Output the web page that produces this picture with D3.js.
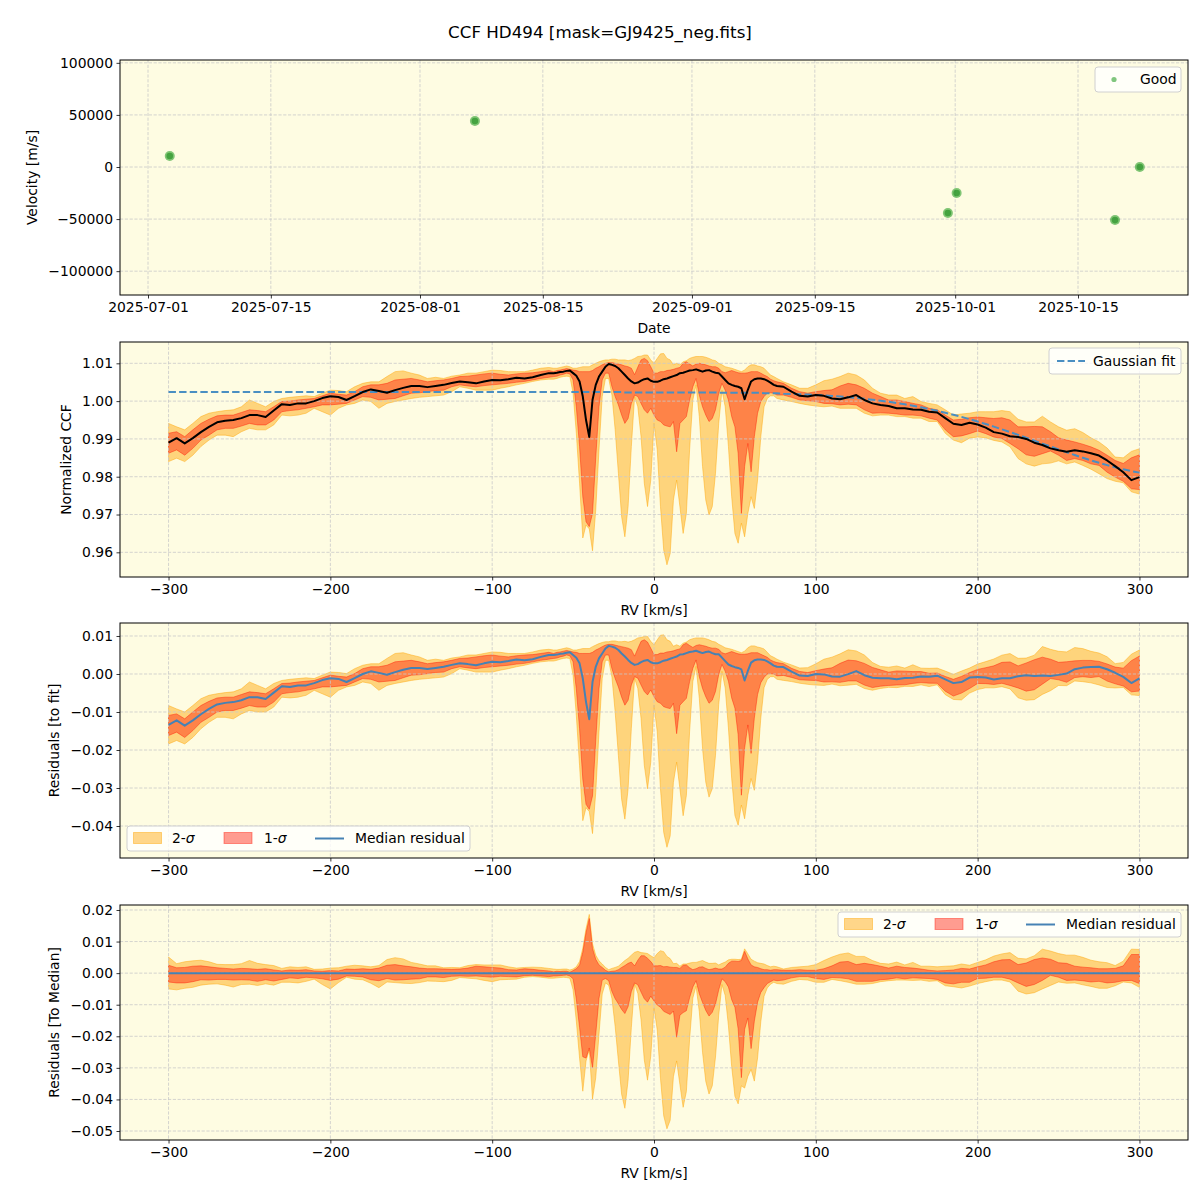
<!DOCTYPE html>
<html><head><meta charset="utf-8">
<script src="https://cdn.jsdelivr.net/npm/d3@7"></script>
<style>body{margin:0;background:#fff}</style>
</head><body>
<script>
// ---------------- DATA ----------------
// Panel 1: velocities per observation date
const obsDates = ["2025-07-03T11:30:00Z","2025-08-07T06:15:00Z","2025-09-30T04:00:00Z","2025-10-01T04:00:00Z","2025-10-19T05:15:00Z","2025-10-22T01:00:00Z"];
const obsVel = [10560, 44160, -44230, -25000, -50960, 0];
const dateTicks = ["2025-07-01","2025-07-15","2025-08-01","2025-08-15","2025-09-01","2025-09-15","2025-10-01","2025-10-15"];

// RV grid (km/s)
const rv = [
-300,-295,-290,-285,-280,-275,-270,-265,-260,-255,-250,-245,-240,-235,-230,-225,-220,-215,-210,-205,
-200,-195,-190,-185,-180,-175,-170,-165,-160,-155,-150,-145,-140,-135,-130,-125,-120,-115,-110,-105,
-100,-95,-90,-85,-80,-75,-70,-65,
-62,-60,-58,-56,-54,-52,-50,-48,-46,-44,-42,-40,-38,-36,-34,-32,-30,-28,-26,-24,-22,-20,-18,-16,-14,-12,-10,-8,-6,-4,-2,
0,2,4,6,8,10,12,14,16,18,20,22,24,26,28,30,32,34,36,38,40,42,44,46,48,50,52,54,56,58,60,62,64,66,68,70,72,74,76,
80,85,90,95,100,105,110,115,120,125,130,135,140,145,150,155,160,165,170,175,180,185,190,195,200,205,210,215,220,225,
230,235,240,245,250,255,260,265,270,275,280,285,290,295,300];

// Median normalized CCF
const ccfMed = [
0.9890,0.9902,0.9888,0.9902,0.9918,0.9932,0.9944,0.9948,0.9950,0.9955,0.9963,0.9963,0.9958,0.9975,0.9992,0.9990,0.9994,0.9994,1.0000,1.0008,
1.0013,1.0011,1.0003,1.0013,1.0024,1.0031,1.0027,1.0022,1.0029,1.0035,1.0040,1.0040,1.0037,1.0040,1.0043,1.0048,1.0052,1.0050,1.0047,1.0052,
1.0056,1.0055,1.0058,1.0062,1.0060,1.0063,1.0069,1.0074,
1.0074,1.0075,1.0077,1.0078,1.0080,1.0081,1.0074,1.0067,1.0052,1.0012,0.9950,0.9905,1.0003,1.0043,1.0065,1.0078,1.0091,1.0098,1.0096,1.0093,
1.0087,1.0078,1.0069,1.0060,1.0052,1.0047,1.0049,1.0054,1.0058,1.0060,1.0054,
1.0051,1.0051,1.0054,1.0058,1.0060,1.0063,1.0066,1.0069,1.0074,1.0075,1.0078,1.0081,1.0082,1.0084,1.0081,1.0078,1.0081,1.0082,1.0078,1.0075,
1.0074,1.0065,1.0056,1.0047,1.0043,1.0040,1.0038,1.0034,1.0005,1.0030,1.0052,1.0058,1.0060,1.0060,1.0058,1.0054,1.0049,1.0043,1.0040,
1.0038,1.0025,1.0014,1.0012,1.0016,1.0014,1.0007,1.0005,1.0010,1.0016,1.0003,0.9994,0.9990,0.9987,0.9981,0.9981,0.9978,0.9977,0.9972,0.9970,
0.9955,0.9940,0.9937,0.9943,0.9938,0.9930,0.9918,0.9914,0.9907,0.9905,0.9900,0.9890,0.9884,0.9875,0.9870,0.9866,0.9870,0.9867,0.9862,0.9856,
0.9843,0.9828,0.9812,0.9791,0.9799];

// 2-sigma upper / lower
const ccfHi2 = [
0.9941,0.9932,0.9924,0.9941,0.9959,0.9968,0.9972,0.9975,0.9977,0.9985,1.0003,0.9994,0.9985,0.9999,1.0007,1.0010,1.0012,1.0014,1.0012,1.0021,
1.0029,1.0028,1.0025,1.0038,1.0047,1.0051,1.0051,1.0065,1.0078,1.0080,1.0074,1.0069,1.0060,1.0063,1.0060,1.0066,1.0069,1.0074,1.0074,1.0078,
1.0082,1.0081,1.0078,1.0078,1.0078,1.0082,1.0087,1.0089,
1.0087,1.0087,1.0089,1.0091,1.0093,1.0091,1.0087,1.0087,1.0089,1.0091,1.0091,1.0091,1.0096,1.0100,1.0104,1.0107,1.0109,1.0109,1.0111,1.0111,
1.0109,1.0109,1.0109,1.0107,1.0109,1.0113,1.0118,1.0119,1.0122,1.0122,1.0109,
1.0100,1.0113,1.0125,1.0126,1.0113,1.0109,1.0096,1.0100,1.0096,1.0104,1.0107,1.0113,1.0116,1.0118,1.0118,1.0118,1.0116,1.0113,1.0109,1.0107,
1.0100,1.0096,1.0091,1.0089,1.0087,1.0084,1.0081,1.0078,1.0082,1.0091,1.0096,1.0096,1.0093,1.0091,1.0087,1.0078,1.0069,1.0065,1.0060,
1.0051,1.0043,1.0034,1.0034,1.0043,1.0054,1.0058,1.0065,1.0074,1.0069,1.0056,1.0034,1.0021,1.0016,1.0016,1.0007,1.0012,0.9999,0.9994,0.9990,
0.9977,0.9963,0.9966,0.9968,0.9972,0.9972,0.9972,0.9975,0.9972,0.9952,0.9945,0.9945,0.9960,0.9945,0.9932,0.9923,0.9927,0.9917,0.9903,0.9892,
0.9876,0.9852,0.9850,0.9867,0.9874];
const ccfLo2 = [
0.9840,0.9849,0.9840,0.9857,0.9880,0.9897,0.9910,0.9910,0.9906,0.9919,0.9928,0.9924,0.9924,0.9937,0.9963,0.9961,0.9963,0.9968,0.9981,0.9972,
0.9963,0.9981,0.9990,0.9994,1.0003,0.9999,0.9981,0.9994,0.9999,1.0003,1.0007,1.0010,1.0012,1.0014,1.0016,1.0025,1.0038,1.0034,1.0029,1.0029,
1.0029,1.0034,1.0038,1.0043,1.0047,1.0052,1.0056,1.0058,
1.0058,1.0060,1.0063,1.0065,1.0066,1.0065,1.0021,0.9915,0.9783,0.9638,0.9672,0.9662,0.9604,0.9712,0.9871,1.0012,1.0060,1.0060,1.0016,0.9924,
0.9809,0.9694,0.9641,0.9721,0.9880,1.0012,0.9985,0.9906,0.9783,0.9721,0.9791,
0.9941,0.9871,0.9721,0.9606,0.9567,0.9597,0.9738,0.9791,0.9721,0.9650,0.9703,0.9871,1.0003,1.0043,0.9959,0.9827,0.9738,0.9699,0.9721,0.9809,
0.9941,1.0029,0.9985,0.9880,0.9747,0.9650,0.9624,0.9677,0.9641,0.9703,0.9747,0.9716,0.9791,0.9906,0.9985,1.0007,1.0014,1.0014,1.0007,
1.0003,0.9999,0.9994,0.9990,0.9987,0.9985,0.9987,0.9981,0.9981,0.9981,0.9968,0.9961,0.9963,0.9963,0.9959,0.9959,0.9955,0.9955,0.9946,0.9946,
0.9915,0.9897,0.9890,0.9902,0.9905,0.9903,0.9896,0.9892,0.9879,0.9848,0.9834,0.9828,0.9834,0.9836,0.9842,0.9834,0.9839,0.9830,0.9820,0.9808,
0.9795,0.9788,0.9784,0.9760,0.9754];

// 1-sigma upper / lower
const ccfHi1 = [
0.9915,0.9919,0.9906,0.9924,0.9941,0.9952,0.9961,0.9963,0.9963,0.9970,0.9977,0.9975,0.9972,0.9985,0.9999,1.0000,1.0003,1.0005,1.0007,1.0014,
1.0021,1.0018,1.0016,1.0025,1.0038,1.0043,1.0043,1.0047,1.0056,1.0058,1.0060,1.0056,1.0051,1.0054,1.0056,1.0060,1.0065,1.0066,1.0069,1.0072,
1.0074,1.0071,1.0069,1.0072,1.0074,1.0075,1.0078,1.0081,
1.0078,1.0081,1.0082,1.0084,1.0086,1.0084,1.0082,1.0081,1.0078,1.0078,1.0078,1.0078,1.0081,1.0087,1.0091,1.0096,1.0100,1.0102,1.0102,1.0100,
1.0098,1.0096,1.0093,1.0091,1.0087,1.0070,1.0090,1.0109,1.0113,1.0107,1.0091,
1.0074,1.0074,1.0078,1.0078,1.0081,1.0082,1.0084,1.0087,1.0089,1.0100,1.0104,1.0098,1.0093,1.0098,1.0100,1.0098,1.0096,1.0093,1.0091,1.0091,
1.0087,1.0078,1.0075,1.0078,1.0081,1.0078,1.0075,1.0074,1.0074,1.0075,1.0078,1.0078,1.0078,1.0074,1.0069,1.0065,1.0058,1.0054,1.0051,
1.0047,1.0034,1.0025,1.0021,1.0025,1.0028,1.0030,1.0040,1.0047,1.0043,1.0034,1.0021,1.0012,1.0003,1.0003,0.9999,0.9994,0.9990,0.9981,0.9977,
0.9963,0.9950,0.9952,0.9956,0.9958,0.9956,0.9954,0.9956,0.9950,0.9932,0.9932,0.9933,0.9932,0.9919,0.9903,0.9897,0.9892,0.9886,0.9879,0.9870,
0.9857,0.9843,0.9835,0.9850,0.9858];
const ccfLo1 = [
0.9862,0.9871,0.9857,0.9875,0.9897,0.9910,0.9924,0.9928,0.9928,0.9934,0.9941,0.9937,0.9937,0.9950,0.9972,0.9975,0.9977,0.9981,0.9985,0.9990,
0.9990,0.9992,0.9994,1.0003,1.0012,1.0010,1.0003,1.0005,1.0007,1.0014,1.0021,1.0022,1.0025,1.0028,1.0029,1.0038,1.0043,1.0040,1.0038,1.0041,
1.0043,1.0045,1.0047,1.0050,1.0052,1.0056,1.0060,1.0063,
1.0065,1.0066,1.0069,1.0071,1.0074,1.0072,1.0056,0.9985,0.9880,0.9747,0.9681,0.9668,0.9703,0.9850,0.9985,1.0056,1.0074,1.0074,1.0038,1.0012,
0.9990,0.9963,0.9941,0.9954,0.9994,1.0016,1.0012,0.9994,0.9977,0.9968,0.9981,
0.9963,0.9950,0.9946,0.9937,0.9934,0.9932,0.9946,0.9866,0.9941,0.9950,0.9959,1.0003,1.0038,1.0060,1.0016,0.9985,0.9963,0.9946,0.9954,0.9977,
1.0021,1.0047,1.0029,1.0003,0.9959,0.9932,0.9862,0.9703,0.9827,0.9888,0.9813,0.9906,0.9968,0.9999,1.0012,1.0021,1.0022,1.0021,1.0016,
1.0016,1.0010,1.0003,1.0001,0.9999,0.9994,0.9993,0.9990,0.9992,0.9990,0.9977,0.9968,0.9969,0.9968,0.9966,0.9963,0.9963,0.9961,0.9955,0.9950,
0.9924,0.9906,0.9908,0.9914,0.9921,0.9914,0.9905,0.9901,0.9888,0.9874,0.9858,0.9854,0.9861,0.9868,0.9857,0.9843,0.9848,0.9843,0.9834,0.9830,
0.9812,0.9799,0.9788,0.9768,0.9766];

// Gaussian fit read along the grid
const gaussFit = [
1.0024,1.0024,1.0024,1.0024,1.0024,1.0024,1.0024,1.0024,1.0024,1.0024,1.0024,1.0024,1.0024,1.0024,1.0024,1.0024,1.0024,1.0024,1.0024,1.0024,
1.0024,1.0024,1.0024,1.0024,1.0024,1.0024,1.0024,1.0024,1.0024,1.0024,1.0024,1.0024,1.0024,1.0024,1.0024,1.0024,1.0024,1.0024,1.0024,1.0024,
1.0024,1.0024,1.0024,1.0024,1.0024,1.0024,1.0024,1.0024,
1.0024,1.0024,1.0024,1.0024,1.0024,1.0024,1.0024,1.0024,1.0024,1.0024,1.0024,1.0024,1.0024,1.0024,1.0024,1.0024,1.0024,1.0024,1.0024,1.0024,
1.0024,1.0024,1.0023,1.0023,1.0023,1.0023,1.0023,1.0023,1.0023,1.0023,1.0023,
1.0023,1.0023,1.0023,1.0023,1.0023,1.0023,1.0023,1.0023,1.0023,1.0023,1.0023,1.0023,1.0023,1.0023,1.0023,1.0023,1.0023,1.0023,1.0023,1.0023,
1.0022,1.0022,1.0022,1.0022,1.0022,1.0022,1.0022,1.0022,1.0022,1.0022,1.0022,1.0022,1.0022,1.0022,1.0021,1.0021,1.0021,1.0021,1.0021,
1.00198,1.00190,1.00182,1.00173,1.00162,1.00150,1.00136,1.00120,1.00103,1.00083,1.00061,1.00037,1.00011,0.99982,0.99949,0.99915,0.99877,0.99836,0.99791,0.99744,
0.99693,0.99640,0.99583,0.99523,0.99459,0.99394,0.99325,0.99254,0.99182,0.99107,0.99031,0.98955,0.98877,0.98800,0.98723,0.98648,0.98574,0.98502,0.98433,0.98368,
0.98306,0.98248,0.98196,0.98149,0.98108];

const rvTicks = [-300,-200,-100,0,100,200,300];
const velTicks = [-100000,-50000,0,50000,100000];
const ccfTicks = [0.96,0.97,0.98,0.99,1.00,1.01];
const resTicks = [-0.04,-0.03,-0.02,-0.01,0.00,0.01];
const medTicks = [-0.05,-0.04,-0.03,-0.02,-0.01,0.00,0.01,0.02];

// derived residuals
const resMed = ccfMed.map((v,i)=>v-gaussFit[i]);
const resHi1 = ccfHi1.map((v,i)=>v-gaussFit[i]);
const resLo1 = ccfLo1.map((v,i)=>v-gaussFit[i]);
const resHi2 = ccfHi2.map((v,i)=>v-gaussFit[i]);
const resLo2 = ccfLo2.map((v,i)=>v-gaussFit[i]);
const dMed = ccfMed.map((v,i)=>v-ccfMed[i]);
const dHi1 = ccfHi1.map((v,i)=>v-ccfMed[i]);
const dLo1 = ccfLo1.map((v,i)=>v-ccfMed[i]);
const dHi2 = ccfHi2.map((v,i)=>v-ccfMed[i]);
const dLo2 = ccfLo2.map((v,i)=>v-ccfMed[i]);

// ---------------- LAYOUT ----------------
const L = 120, R = 1188;
const P = [{t:60,b:295},{t:342,b:577},{t:623,b:858},{t:905,b:1140}];
const BG = '#fefce2';
const FONT = '"DejaVu Sans", sans-serif';
const FS = 13.9;
const C2 = 'rgba(255,165,0,0.45)';
const C1 = 'rgba(255,20,0,0.42)';
const BLUE = '#4682b4';

const svg = d3.select('body').append('svg').attr('width',1200).attr('height',1200)
  .style('font-family',FONT);
svg.append('rect').attr('width',1200).attr('height',1200).attr('fill','#fff');

svg.append('text').attr('x',600).attr('y',38).attr('text-anchor','middle')
  .attr('font-size',16.7).text('CCF HD494 [mask=GJ9425_neg.fits]');

const parseD = d3.utcParse('%Y-%m-%d');
const xDate = d3.scaleUtc().domain([new Date(Date.UTC(2025,5,27,19,24)), new Date(Date.UTC(2025,9,27,12,53))]).range([L,R]);
const xRV = d3.scaleLinear().domain([-330,330]).range([L,R]);
const y1 = d3.scaleLinear().domain([-122880,102720]).range([P[0].b,P[0].t]);
const y2 = d3.scaleLinear().domain([0.95347,1.01564]).range([P[1].b,P[1].t]);
const y3 = d3.scaleLinear().domain([-0.04842,0.01342]).range([P[2].b,P[2].t]);
const y4 = d3.scaleLinear().domain([-0.05285,0.02158]).range([P[3].b,P[3].t]);

function bg(i){
  svg.append('rect').attr('x',L).attr('y',P[i].t).attr('width',R-L).attr('height',P[i].b-P[i].t).attr('fill',BG);
}
function grid(i,x,xt,y,yt){
  const g = svg.append('g').attr('stroke','#c9c9c9').attr('stroke-width',0.8).attr('stroke-dasharray','3.2,1.6');
  xt.forEach(d=>g.append('line').attr('x1',x(d)).attr('x2',x(d)).attr('y1',P[i].t).attr('y2',P[i].b));
  yt.forEach(d=>g.append('line').attr('x1',L).attr('x2',R).attr('y1',y(d)).attr('y2',y(d)));
}
function axes(i,x,xt,xf,y,yt,yf,xlabel,ylabel,ylx){
  const gx = svg.append('g').attr('transform',`translate(0,${P[i].b})`)
    .call(d3.axisBottom(x).tickValues(xt).tickFormat(xf).tickSize(3.5).tickPadding(3.5));
  const gy = svg.append('g').attr('transform',`translate(${L},0)`)
    .call(d3.axisLeft(y).tickValues(yt).tickFormat(yf).tickSize(3.5).tickPadding(3.5));
  [gx,gy].forEach(g=>{g.select('.domain').remove(); g.selectAll('text').attr('font-size',FS).attr('font-family',FONT).attr('fill','#000'); g.selectAll('line').attr('stroke','#000').attr('stroke-width',0.8);});
  svg.append('rect').attr('x',L).attr('y',P[i].t).attr('width',R-L).attr('height',P[i].b-P[i].t)
    .attr('fill','none').attr('stroke','#000').attr('stroke-width',1);
  svg.append('text').attr('x',(L+R)/2).attr('y',P[i].b+38).attr('text-anchor','middle').attr('font-size',FS).text(xlabel);
  const cy=(P[i].t+P[i].b)/2;
  svg.append('text').attr('transform',`translate(${ylx},${cy}) rotate(-90)`).attr('text-anchor','middle').attr('font-size',FS).text(ylabel);
}
function bands(x,y,lo2,hi2,lo1,hi1){
  const a2 = d3.area().x((d,i)=>x(rv[i])).y0((d,i)=>y(lo2[i])).y1((d,i)=>y(hi2[i]));
  const a1 = d3.area().x((d,i)=>x(rv[i])).y0((d,i)=>y(lo1[i])).y1((d,i)=>y(hi1[i]));
  svg.append('path').attr('d',a2(rv)).attr('fill',C2).attr('stroke',C2).attr('stroke-width',1);
  svg.append('path').attr('d',a1(rv)).attr('fill',C1).attr('stroke',C1).attr('stroke-width',1);
}
function line(x,y,vals,color,w,dash){
  const ln = d3.line().x((d,i)=>x(rv[i])).y((d,i)=>y(vals[i]));
  const p = svg.append('path').attr('d',ln(rv)).attr('fill','none').attr('stroke',color).attr('stroke-width',w).attr('stroke-linejoin','round');
  if(dash) p.attr('stroke-dasharray',dash);
}
function legendBox(x0,y0,w,h){
  svg.append('rect').attr('x',x0).attr('y',y0).attr('width',w).attr('height',h).attr('rx',3)
    .attr('fill','rgba(255,255,255,0.8)').attr('stroke','#d0d0d0').attr('stroke-width',1);
}
function sigmaLabel(x0,yb,n){
  const t = svg.append('text').attr('x',x0).attr('y',yb).attr('font-size',FS);
  t.append('tspan').text(n+'-');
  t.append('tspan').attr('font-style','italic').text('σ');
}
function bandLegend(x0,y0){
  // x0,y0: legend box top-left
  legendBox(x0,y0,343,25);
  const py=y0+6.5, ph=11, tb=y0+17;
  svg.append('rect').attr('x',x0+6.5).attr('y',py).attr('width',28).attr('height',ph).attr('fill',C2).attr('stroke',C2);
  sigmaLabel(x0+45,tb,2);
  svg.append('rect').attr('x',x0+97).attr('y',py).attr('width',28).attr('height',ph).attr('fill',C1).attr('stroke',C1);
  sigmaLabel(x0+137,tb,1);
  svg.append('line').attr('x1',x0+188).attr('x2',x0+217).attr('y1',y0+12.5).attr('y2',y0+12.5).attr('stroke',BLUE).attr('stroke-width',2);
  svg.append('text').attr('x',x0+228).attr('y',tb).attr('font-size',FS).text('Median residual');
}

// ---------------- PANEL 1 ----------------
bg(0);
const dTicks = dateTicks.map(parseD);
grid(0,xDate,dTicks,y1,velTicks);
const pts = obsDates.map((d,i)=>({d:new Date(d),v:obsVel[i]}));
svg.append('g').selectAll('circle.o').data(pts).enter().append('circle')
  .attr('cx',p=>xDate(p.d)).attr('cy',p=>y1(p.v)).attr('r',5).attr('fill','rgba(44,160,44,0.6)');
svg.append('g').selectAll('circle.i').data(pts).enter().append('circle')
  .attr('cx',p=>xDate(p.d)).attr('cy',p=>y1(p.v)).attr('r',3.3).attr('fill','rgba(30,140,30,0.6)');
axes(0,xDate,dTicks,d3.utcFormat('%Y-%m-%d'),y1,velTicks,d3.format('d'),'Date','Velocity [m/s]',37);
legendBox(1095,67,86,25);
svg.append('circle').attr('cx',1114).attr('cy',79.5).attr('r',2.6).attr('fill','rgba(44,160,44,0.6)');
svg.append('text').attr('x',1140).attr('y',84).attr('font-size',FS).text('Good');

// ---------------- PANEL 2 ----------------
bg(1);
bands(xRV,y2,ccfLo2,ccfHi2,ccfLo1,ccfHi1);
grid(1,xRV,rvTicks,y2,ccfTicks);
line(xRV,y2,gaussFit,'#4a8fc2',2,'7.4,3.2');
line(xRV,y2,ccfMed,'#000',2);
axes(1,xRV,rvTicks,d3.format('d'),y2,ccfTicks,d3.format('.2f'),'RV [km/s]','Normalized CCF',71);
legendBox(1049,348,132,26);
svg.append('line').attr('x1',1057).attr('x2',1085).attr('y1',361).attr('y2',361).attr('stroke','#4a8fc2').attr('stroke-width',2).attr('stroke-dasharray','7.4,3.2');
svg.append('text').attr('x',1093).attr('y',366).attr('font-size',FS).text('Gaussian fit');

// ---------------- PANEL 3 ----------------
bg(2);
bands(xRV,y3,resLo2,resHi2,resLo1,resHi1);
grid(2,xRV,rvTicks,y3,resTicks);
line(xRV,y3,resMed,BLUE,2);
axes(2,xRV,rvTicks,d3.format('d'),y3,resTicks,d3.format('.2f'),'RV [km/s]','Residuals [to fit]',59);
bandLegend(127,826);

// ---------------- PANEL 4 ----------------
bg(3);
bands(xRV,y4,dLo2,dHi2,dLo1,dHi1);
grid(3,xRV,rvTicks,y4,medTicks);
line(xRV,y4,dMed,BLUE,2);
axes(3,xRV,rvTicks,d3.format('d'),y4,medTicks,d3.format('.2f'),'RV [km/s]','Residuals [To Median]',59);
bandLegend(838,912);
</script>
</body></html>
